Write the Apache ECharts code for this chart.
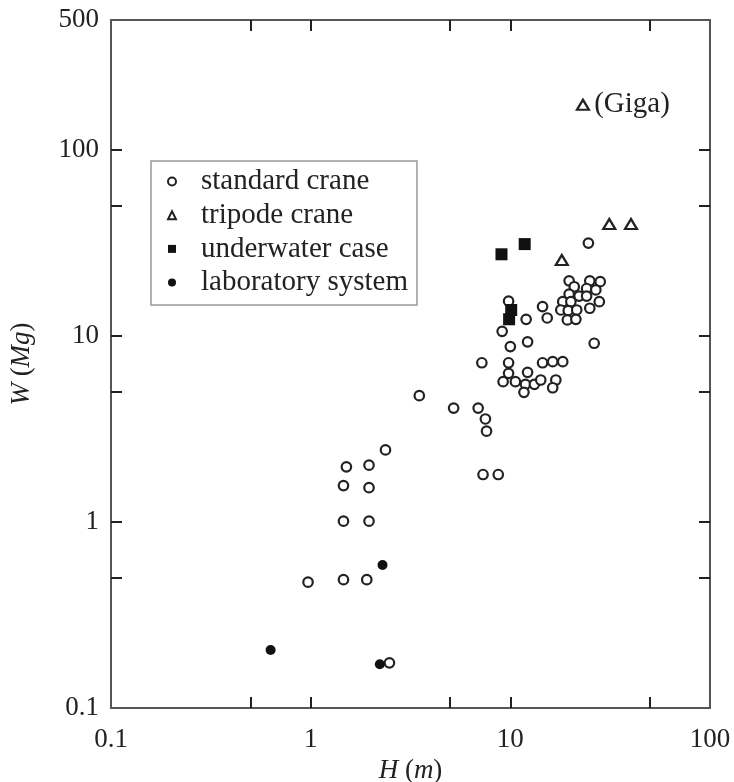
<!DOCTYPE html>
<html>
<head>
<meta charset="utf-8">
<script src="https://cdn.jsdelivr.net/npm/echarts@6/dist/echarts.min.js"></script>
<style>html,body{margin:0;padding:0;background:#fff}#c{width:734px;height:782px}</style>
</head>
<body>
<div id="c"></div>
<script>
// Data (H in m, W in Mg)
const standardH = [0.97,1.46,1.91,2.48,2.37,1.51,1.96,1.46,1.96,1.46,1.96,7.6,7.3,8.7,3.5,5.2,6.9,7.5,7.2,10.0,12.2,9.8,9.8,12.2,9.2,10.6,11.9,13.2,14.2,11.7,14.5,16.3,18.3,16.9,16.3,26.3,24.6,9.8,9.1,12.0,14.5,15.3,19.7,20.9,19.7,22.1,18.3,20.1,17.9,19.5,21.5,19.3,21.3,25.0,28.2,24.1,26.8,24.1,27.9,25.0];
const standardW = [0.475,0.49,0.49,0.175,2.44,1.98,2.02,1.57,1.53,1.01,1.01,3.08,1.80,1.80,4.78,4.10,4.10,3.58,7.18,8.77,9.31,7.18,6.30,6.38,5.68,5.68,5.50,5.50,5.80,4.98,7.18,7.28,7.28,5.80,5.27,9.14,31.6,15.4,10.6,12.3,14.4,12.5,19.8,18.4,16.8,16.4,15.3,15.3,13.8,13.7,13.8,12.2,12.3,19.8,19.6,18.0,17.7,16.4,15.3,14.1];
const tripodeH = [18.1,31.3,40.2,23.1];
const tripodeW = [25.6,40.0,40.0,175];
const tripodeLabels = ['','','','(Giga)'];
const underwaterH = [9.03,11.8,10.1,9.86];
const underwaterW = [27.5,31.2,13.8,12.3];
const labH = [2.29,0.63,2.22];
const labW = [0.587,0.205,0.172];
const xTickValues = [0.5,1,5,10,50];
const xLabelValues = [0.1,1,10,100];
const yTickValues = [0.5,1,5,10,50,100];
const yLabelValues = [0.1,1,10,100,500];
const seriesNames = ['standard crane','tripode crane','underwater case','laboratory system'];

const zip = (a,b) => a.map((v,i)=>[v,b[i]]);
const FONT = 'Liberation Serif';
const fmt = v => { const r = Math.round(v*1000)/1000; return String(r); };

function axisBase(pos, isX, show){
  return {
    type:'log', logBase:10, gridIndex:0,
    min: 0.1, max: isX?100:500,
    position: pos,
    splitLine:{show:false},
    axisLine:{show:true, onZero:false, lineStyle:{color:'#555', width:2}},
    axisTick:{show:true, inside:true, length:11, customValues: isX?xTickValues:yTickValues, lineStyle:{color:'#222', width:2}},
    axisLabel:{show:show, customValues: isX?xLabelValues:yLabelValues, formatter: fmt,
      fontFamily:FONT, fontSize:27, color:'#222', margin: isX?18:12},
    minorTick:{show:false}
  };
}

const nameStyle = {fontFamily:FONT, fontSize:27, color:'#222', rich:{i:{fontFamily:FONT, fontSize:27, fontStyle:'italic', color:'#222'}}};
const xMain = Object.assign(axisBase('bottom', true, true), {
  name:'{i|H} ({i|m})', nameLocation:'middle', nameGap:48, nameTextStyle:nameStyle
});
const xTop = axisBase('top', true, false);
const yMain = Object.assign(axisBase('left', false, true), {
  name:'{i|W} ({i|Mg})', nameLocation:'middle', nameGap:76, nameRotate:90, nameTextStyle:nameStyle
});
const yRight = axisBase('right', false, false);

const chart = echarts.init(document.getElementById('c'), null, {renderer:'canvas'});
chart.setOption({
  backgroundColor:'#fff',
  animation:false,
  grid:{left:111, right:24, top:20, bottom:74, containLabel:false, outerBoundsMode:'none'},
  xAxis:[xMain, xTop],
  yAxis:[yMain, yRight],
  legend:{
    orient:'vertical', left:151, top:161,
    data: seriesNames,
    itemWidth:8, itemHeight:8, itemGap:4.7,
    padding:[6,9,8,16],
    borderColor:'#999', borderWidth:1.5, backgroundColor:'#fff',
    textStyle:{fontFamily:FONT, fontSize:29, color:'#222', lineHeight:29, padding:[0,0,0,20]}
  },
  series:[
    {name:seriesNames[0], type:'scatter', symbol:'circle', symbolSize:9.5,
      itemStyle:{color:'#fff', borderColor:'#222', borderWidth:2.2, opacity:1},
      data: zip(standardH, standardW)},
    {name:seriesNames[1], type:'scatter', symbol:'triangle', symbolSize:[12,10],
      itemStyle:{color:'#fff', borderColor:'#222', borderWidth:2.2, opacity:1},
      label:{show:true, position:'right', distance:4, formatter:p=>tripodeLabels[p.dataIndex],
        fontFamily:FONT, fontSize:29, color:'#222'},
      data: zip(tripodeH, tripodeW)},
    {name:seriesNames[2], type:'scatter', symbol:'rect', symbolSize:12,
      itemStyle:{color:'#111', opacity:1},
      data: zip(underwaterH, underwaterW)},
    {name:seriesNames[3], type:'scatter', symbol:'circle', symbolSize:10,
      itemStyle:{color:'#111', opacity:1},
      data: zip(labH, labW)}
  ]
});
</script>
</body>
</html>
